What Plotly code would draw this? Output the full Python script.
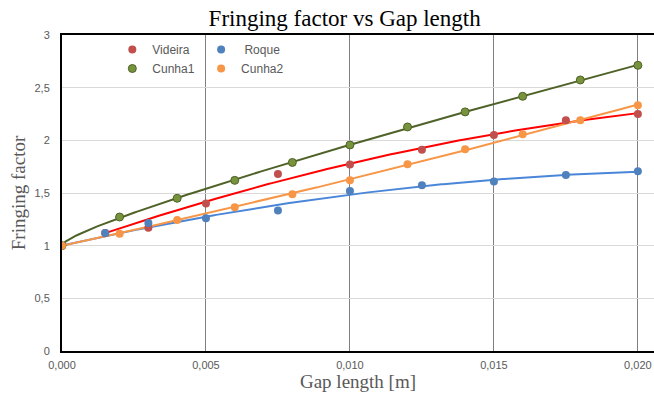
import numpy as np
import plotly.graph_objects as go

# Data
videira_x = [0.0015, 0.003, 0.005, 0.0075, 0.010, 0.0125, 0.015, 0.0175, 0.020]
videira_y = [1.12, 1.17, 1.40, 1.68, 1.77, 1.91, 2.05, 2.19, 2.25]

roque_x = [0.0, 0.0015, 0.003, 0.005, 0.0075, 0.010, 0.0125, 0.015, 0.0175, 0.020]
roque_y = [1.0, 1.12, 1.215, 1.26, 1.335, 1.52, 1.573, 1.61, 1.67, 1.706]

cunha1_x = [0.0, 0.002, 0.004, 0.006, 0.008, 0.010, 0.012, 0.014, 0.016, 0.018, 0.020]
cunha1_y = [1.0, 1.272, 1.45, 1.62, 1.79, 1.956, 2.127, 2.27, 2.418, 2.573, 2.712]

cunha2_x = [0.0, 0.002, 0.004, 0.006, 0.008, 0.010, 0.012, 0.014, 0.016, 0.018, 0.020]
cunha2_y = [1.0, 1.114, 1.244, 1.364, 1.488, 1.62, 1.772, 1.915, 2.057, 2.19, 2.332]

x_ticks = [0.0, 0.005, 0.010, 0.015, 0.020]
y_ticks = [0, 0.5, 1, 1.5, 2, 2.5, 3]

# name, x, y, marker colour, line colour, fit degree, legend, outline, fit in sqrt(x)
series = [
    ("Videira", videira_x, videira_y, "#C0504D", "#FF0000", 2, "legend", None, False),
    ("Roque", roque_x, roque_y, "#4F81BD", "#4A86D8", 2, "legend2", None, False),
    ("Cunha1", cunha1_x, cunha1_y, "#77933C", "#4F6228", 3, "legend", "#4F6228", True),
    ("Cunha2", cunha2_x, cunha2_y, "#F79646", "#F79646", 2, "legend2", None, False),
]

fig = go.Figure()

# trendlines (fits of the data, anchored at the first point)
for name, xs, ys, mc, lc, deg, lg, outline, sq in series:
    xa = np.array(xs)
    ya = np.array(ys)
    w = np.ones_like(xa)
    w[0] = 10.0
    xf = np.linspace(xa.min(), xa.max(), 300)
    if sq:
        coef = np.polyfit(np.sqrt(xa), ya, deg, w=w)
        yf = np.polyval(coef, np.sqrt(xf))
    else:
        coef = np.polyfit(xa, ya, deg, w=w)
        yf = np.polyval(coef, xf)
    fig.add_trace(go.Scatter(x=xf, y=yf, mode="lines",
                             line=dict(color=lc, width=2),
                             showlegend=False, hoverinfo="skip"))

for name, xs, ys, mc, lc, deg, lg, outline, sq in series:
    label = " Roque" if name == "Roque" else name
    fig.add_trace(go.Scatter(
        x=xs, y=ys, mode="markers", name=label, legend=lg,
        marker=dict(color=mc, size=8,
                    line=dict(color=outline if outline else mc, width=1 if outline else 0)),
    ))

tickfont = dict(family="Liberation Sans Narrow, Liberation Sans, Arial", size=11, color="#595959")
titlefont = dict(family="Liberation Serif, Times New Roman, serif", size=19, color="#595959")
legfont = dict(family="Liberation Sans Narrow, Liberation Sans, Arial", size=12, color="#595959")

fig.update_layout(
    width=654, height=393,
    margin=dict(l=62, r=0, t=35, b=42),
    paper_bgcolor="white", plot_bgcolor="white",
    separators=",.",
    title=dict(text="Fringing factor vs Gap length", x=0.527, xanchor="center",
               y=0.955, yanchor="middle",
               font=dict(family="Liberation Serif, Times New Roman, serif", size=23, color="#000000")),
    xaxis=dict(range=[0, 0.02056], tickvals=x_ticks, tickformat=".3f",
               showgrid=True, gridcolor="#808080", gridwidth=1,
               showline=True, linecolor="#000000", linewidth=2, mirror=True,
               zeroline=False, tickfont=tickfont, ticks="", ticklabelstandoff=3,
               title=dict(text="Gap length [m]", font=titlefont, standoff=2)),
    yaxis=dict(range=[0, 3], tickvals=y_ticks, tickformat="",
               showgrid=True, gridcolor="#D9D9D9", gridwidth=1,
               showline=True, linecolor="#000000", linewidth=2,
               zeroline=False, tickfont=tickfont, ticks="", ticklabelstandoff=8,
               title=dict(text="Fringing factor", font=titlefont, standoff=4)),
    legend=dict(x=0.085, y=1.0, xanchor="left", yanchor="top",
                bgcolor="rgba(0,0,0,0)", font=legfont,
                itemwidth=30, tracegroupgap=0),
    legend2=dict(x=0.235, y=1.0, xanchor="left", yanchor="top",
                 bgcolor="rgba(0,0,0,0)", font=legfont,
                 itemwidth=30, tracegroupgap=0),
)

fig.write_html("out.html")
